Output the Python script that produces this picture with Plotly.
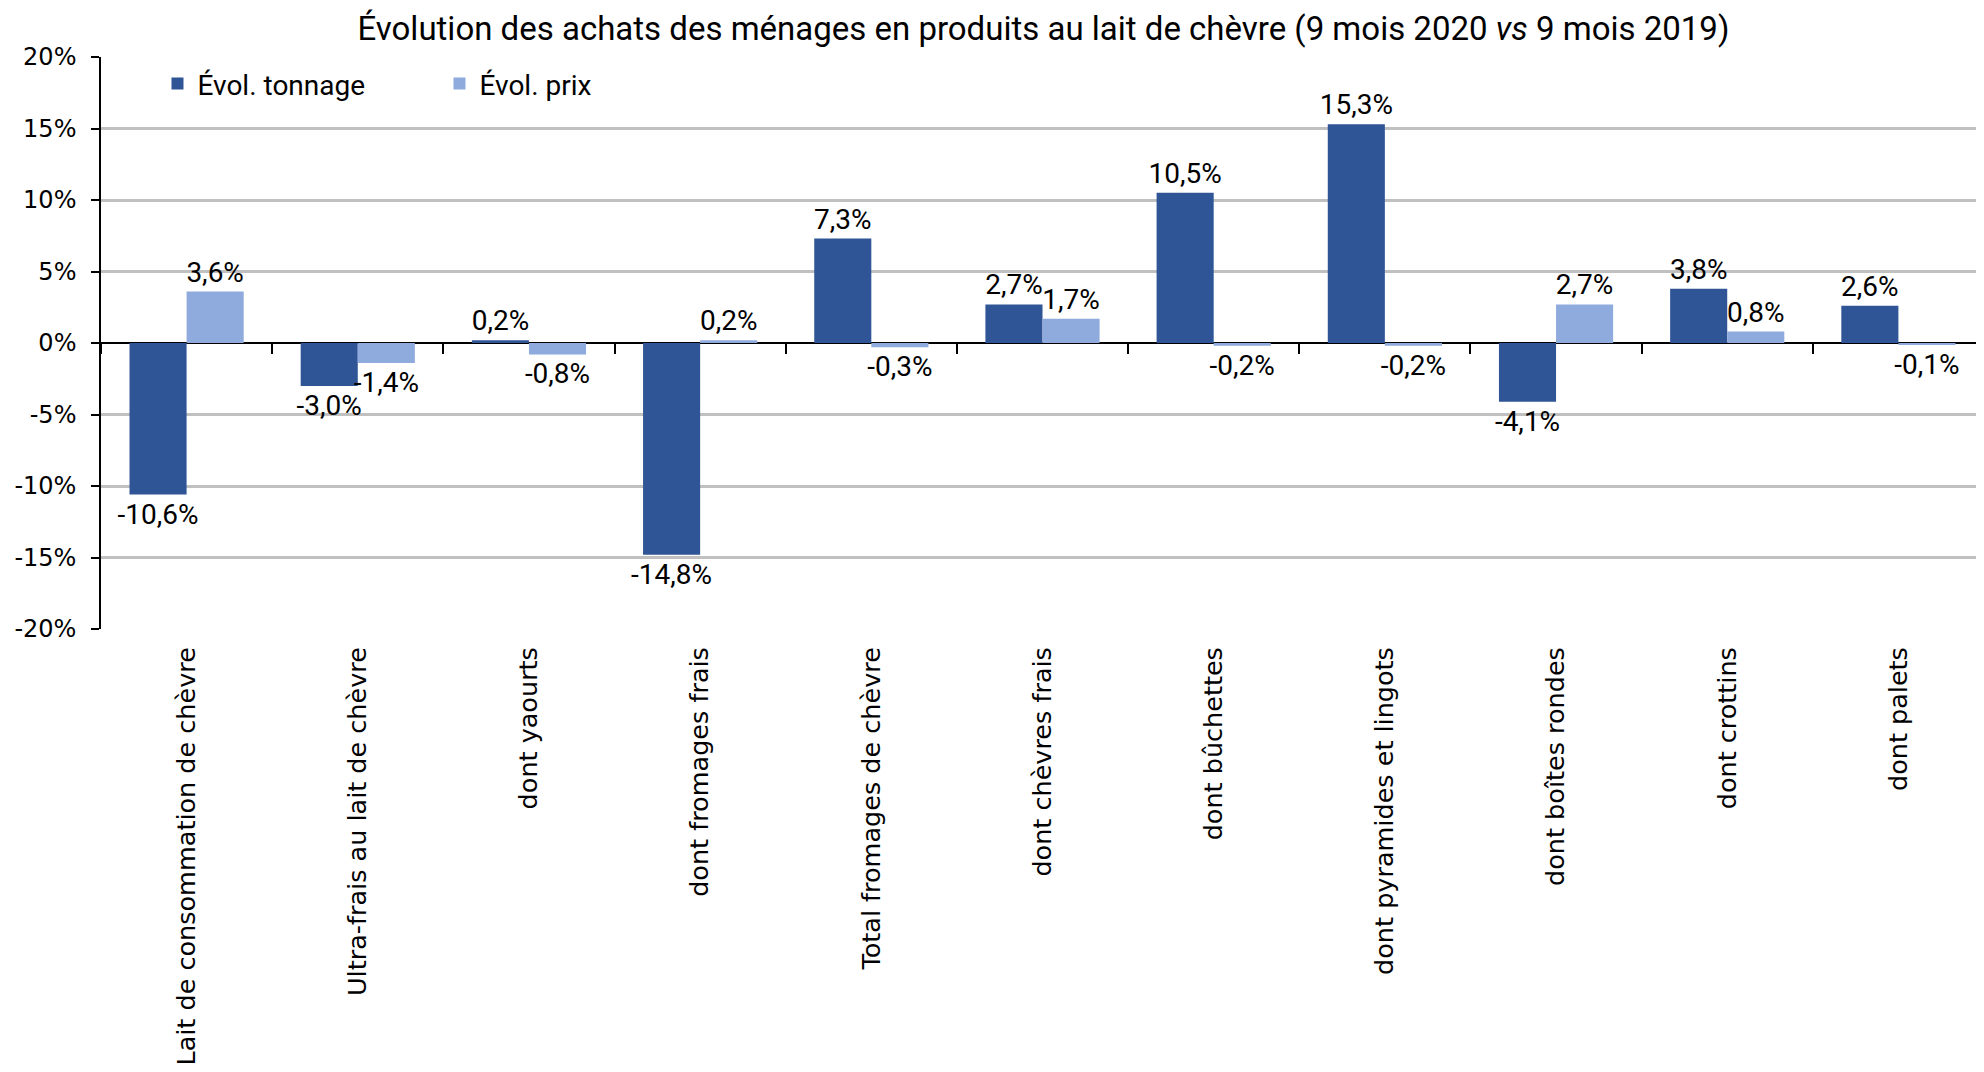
import plotly.graph_objects as go

categories = [
    "Lait de consommation de chèvre",
    "Ultra-frais au lait de chèvre",
    "dont yaourts",
    "dont fromages frais",
    "Total fromages de chèvre",
    "dont chèvres frais",
    "dont bûchettes",
    "dont pyramides et lingots",
    "dont boîtes rondes",
    "dont crottins",
    "dont palets",
]
evol_tonnage = [-10.6, -3.0, 0.2, -14.8, 7.3, 2.7, 10.5, 15.3, -4.1, 3.8, 2.6]
evol_prix = [3.6, -1.4, -0.8, 0.2, -0.3, 1.7, -0.2, -0.2, 2.7, 0.8, -0.1]
y_tick_values = [-20, -15, -10, -5, 0, 5, 10, 15, 20]
y_tick_labels = ["-20%", "-15%", "-10%", "-5%", "0%", "5%", "10%", "15%", "20%"]


def fmt(v):
    return f"{v:.1f}%".replace(".", ",")


LABEL_FONT = "Roboto, sans-serif"
AXIS_FONT = "DejaVu Sans, sans-serif"

fig = go.Figure()
fig.add_trace(go.Bar(
    x=categories, y=evol_tonnage, name="Évol. tonnage",
    marker=dict(color="#2F5597", line=dict(width=0)),
    text=[fmt(v) for v in evol_tonnage], textposition="outside",
    constraintext="none",
    textfont=dict(family=LABEL_FONT, size=28, color="#000000"),
    cliponaxis=False,
))
fig.add_trace(go.Bar(
    x=categories, y=evol_prix, name="Évol. prix",
    marker=dict(color="#8FAADC", line=dict(width=0)),
    text=[fmt(v) for v in evol_prix], textposition="outside",
    constraintext="none",
    textfont=dict(family=LABEL_FONT, size=28, color="#000000"),
    cliponaxis=False,
))
# invisible trace carrying the category tick marks drawn on the zero line
fig.add_trace(go.Scatter(
    x=categories, y=[None] * len(categories), xaxis="x2",
    showlegend=False, hoverinfo="skip", mode="lines",
))

x_range = [-0.5, len(categories) - 0.5]

fig.update_layout(
    width=1976, height=1064,
    paper_bgcolor="white", plot_bgcolor="white",
    margin=dict(l=93, r=0, t=49, b=443),
    barmode="group", bargap=0.333, bargroupgap=0,
    title=dict(
        text="Évolution des achats des ménages en produits au lait de chèvre (9 mois 2020 <i>vs</i> 9 mois 2019)",
        x=0.524, xanchor="center", y=0.981, yanchor="middle",
        font=dict(family=LABEL_FONT, size=33, color="#000000"),
    ),
    legend=dict(
        orientation="h", x=0.03, y=0.953, xanchor="left", yanchor="middle",
        font=dict(family=LABEL_FONT, size=28, color="#000000"),
        bgcolor="rgba(0,0,0,0)", entrywidth=237, entrywidthmode="pixels",
        traceorder="normal",
    ),
    xaxis=dict(
        type="category", categoryarray=categories, categoryorder="array",
        range=x_range, autorange=False,
        tickangle=-90, showgrid=False, ticks="", showline=False,
        tickfont=dict(family=AXIS_FONT, size=25.5, color="#000000"),
        ticklabelstandoff=12,
    ),
    xaxis2=dict(
        overlaying="x", matches="x", anchor="free", position=0.5,
        type="category", categoryarray=categories, categoryorder="array",
        ticks="outside", tickson="boundaries", ticklen=10, tickwidth=1.5,
        tickcolor="#000000", showticklabels=False, showgrid=False, showline=False,
    ),
    yaxis=dict(
        range=[-20, 20], tickvals=y_tick_values, ticktext=y_tick_labels,
        showgrid=True, gridcolor="#C0C0C0", gridwidth=3,
        zeroline=True, zerolinecolor="#000000", zerolinewidth=1.5,
        showline=True, linecolor="#000000", linewidth=1.5,
        ticks="outside", ticklen=8, tickwidth=1.5, tickcolor="#000000",
        tickfont=dict(family=AXIS_FONT, size=24, color="#000000"),
        ticklabelstandoff=10,
    ),
)

fig.write_html("out.html")
